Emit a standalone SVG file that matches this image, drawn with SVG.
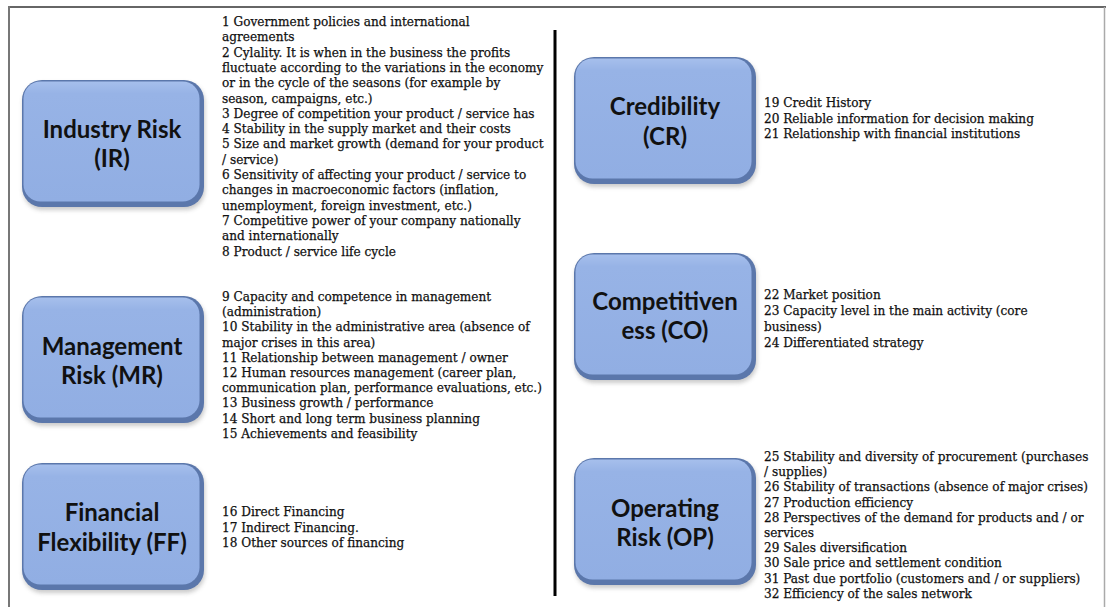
<svg xmlns="http://www.w3.org/2000/svg" width="1106" height="607" viewBox="0 0 1106 607">
<style>
.lbl{font-family:Lato,"Liberation Sans",sans-serif;font-weight:700;font-size:24px;fill:#111;text-anchor:middle}
.lst{font-family:"DejaVu Serif","Liberation Serif",serif;font-size:12.1px;fill:#111;stroke:#111;stroke-width:0.25}
.edge{fill:#5b77ab}
.face{fill:url(#g)}
</style>
<defs>
<linearGradient id="g" x1="0" y1="0" x2="0" y2="1">
<stop offset="0" stop-color="#a6bfec"/>
<stop offset="0.1" stop-color="#97b3e6"/>
<stop offset="1" stop-color="#91aee3"/>
</linearGradient>
<filter id="sh" x="-10%" y="-10%" width="130%" height="130%">
<feGaussianBlur stdDeviation="2"/>
</filter>
<g id="box">
<rect x="1" y="3" width="182" height="127" rx="20" fill="#8a8a8a" opacity="0.45" filter="url(#sh)"/>
<rect x="0" y="0" width="182" height="127" rx="20" class="edge"/>
<rect x="1.5" y="1.5" width="176" height="120" rx="17" class="face"/>
</g>
</defs>
<g id="frame">
<line x1="9" y1="7" x2="1106" y2="7" stroke="#666" stroke-width="2"/>
<line x1="9" y1="6" x2="9" y2="607" stroke="#777" stroke-width="2"/>
<line x1="1104.5" y1="7" x2="1104.5" y2="607" stroke="#aaa" stroke-width="1.5"/>
<line x1="555" y1="30" x2="555" y2="596" stroke="#000" stroke-width="3"/>
</g>
<g id="connectors"></g>
<g id="node-ir">
<use href="#box" x="22" y="80"/>
<text class="lbl" x="112" y="138">Industry Risk</text>
<text class="lbl" x="112" y="167">(IR)</text>
<text class="lst"><tspan x="222" y="26">1 Government policies and international</tspan><tspan x="222" y="41.3">agreements</tspan><tspan x="222" y="56.6">2 Cylality. It is when in the business the profits</tspan><tspan x="222" y="71.9">fluctuate according to the variations in the economy</tspan><tspan x="222" y="87.2">or in the cycle of the seasons (for example by</tspan><tspan x="222" y="102.5">season, campaigns, etc.)</tspan><tspan x="222" y="117.8">3 Degree of  competition your product / service has</tspan><tspan x="222" y="133.1">4 Stability in the supply market and their costs</tspan><tspan x="222" y="148.4">5 Size and market growth (demand for your product</tspan><tspan x="222" y="163.7">/ service)</tspan><tspan x="222" y="179">6 Sensitivity of affecting your product / service to</tspan><tspan x="222" y="194.3">changes in macroeconomic factors  (inflation,</tspan><tspan x="222" y="209.6">unemployment, foreign investment, etc.)</tspan><tspan x="222" y="224.9">7 Competitive power of  your company nationally</tspan><tspan x="222" y="240.2">and internationally</tspan><tspan x="222" y="255.5">8 Product / service life cycle</tspan></text>
</g>
<g id="node-mr">
<use href="#box" x="22" y="296"/>
<text class="lbl" x="112" y="355">Management</text>
<text class="lbl" x="112" y="384">Risk (MR)</text>
<text class="lst"><tspan x="222" y="301">9 Capacity and competence in management</tspan><tspan x="222" y="316.2">(administration)</tspan><tspan x="222" y="331.4">10 Stability in the administrative area (absence of</tspan><tspan x="222" y="346.6">major crises in this area)</tspan><tspan x="222" y="361.8">11 Relationship between management / owner</tspan><tspan x="222" y="377">12 Human resources management (career plan,</tspan><tspan x="222" y="392.2">communication plan, performance evaluations, etc.)</tspan><tspan x="222" y="407.4">13 Business growth / performance</tspan><tspan x="222" y="422.6">14 Short and long term business planning</tspan><tspan x="222" y="437.8">15 Achievements and feasibility</tspan></text>
</g>
<g id="node-ff">
<use href="#box" x="22" y="463"/>
<text class="lbl" x="112" y="521">Financial</text>
<text class="lbl" x="112" y="551">Flexibility (FF)</text>
<text class="lst"><tspan x="222" y="516">16 Direct Financing</tspan><tspan x="222" y="531.5">17 Indirect Financing.</tspan><tspan x="222" y="547">18 Other sources of  financing</tspan></text>
</g>
<g id="node-cr">
<use href="#box" x="574" y="57"/>
<text class="lbl" x="665" y="115">Credibility</text>
<text class="lbl" x="665" y="145">(CR)</text>
<text class="lst"><tspan x="764" y="107">19 Credit History</tspan><tspan x="764" y="122.5">20 Reliable information for decision making</tspan><tspan x="764" y="138">21 Relationship with financial institutions</tspan></text>
</g>
<g id="node-co">
<use href="#box" x="574" y="253"/>
<text class="lbl" x="665" y="310">Competitiven</text>
<text class="lbl" x="665" y="339">ess (CO)</text>
<text class="lst"><tspan x="764" y="299">22 Market position</tspan><tspan x="764" y="315">23 Capacity level in the main activity (core</tspan><tspan x="764" y="330.5">business)</tspan><tspan x="764" y="347">24 Differentiated strategy</tspan></text>
</g>
<g id="node-op">
<use href="#box" x="574" y="458"/>
<text class="lbl" x="665" y="517">Operating</text>
<text class="lbl" x="665" y="546">Risk (OP)</text>
<text class="lst"><tspan x="764" y="461">25 Stability and diversity of procurement (purchases</tspan><tspan x="764" y="476.2">/ supplies)</tspan><tspan x="764" y="491.4">26 Stability of transactions (absence of  major crises)</tspan><tspan x="764" y="506.6">27 Production efficiency</tspan><tspan x="764" y="521.8">28 Perspectives of the demand for products  and / or</tspan><tspan x="764" y="537">services</tspan><tspan x="764" y="552.2">29 Sales diversification</tspan><tspan x="764" y="567.4">30 Sale price and settlement condition</tspan><tspan x="764" y="582.6">31 Past due portfolio  (customers and / or suppliers)</tspan><tspan x="764" y="597.8">32 Efficiency of the sales network</tspan></text>
</g>
</svg>
